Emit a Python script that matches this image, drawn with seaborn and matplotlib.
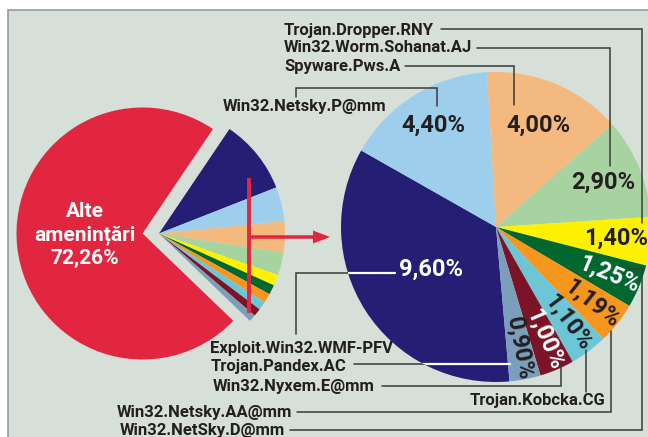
import matplotlib
matplotlib.use("Agg")
import matplotlib.pyplot as plt
import seaborn as sns
import numpy as np
from matplotlib.patches import Rectangle, Circle

# ---------------- data ----------------
threats = ["Exploit.Win32.WMF-PFV", "Win32.Netsky.P@mm", "Spyware.Pws.A",
           "Win32.Worm.Sohanat.AJ", "Trojan.Dropper.RNY", "Win32.NetSky.D@mm",
           "Win32.Netsky.AA@mm", "Trojan.Kobcka.CG", "Win32.Nyxem.E@mm",
           "Trojan.Pandex.AC"]
shares = [9.60, 4.40, 4.00, 2.90, 1.40, 1.25, 1.19, 1.10, 1.00, 0.90]
other_label = "Alte\namenințări"
other_share = 72.26

colors = ["#241f74", "#9dcfec", "#f4b97f", "#a7d3a1", "#fff200", "#00672f",
          "#f7961d", "#6cc6d5", "#7c1428", "#7b9fba"]
red = "#e32640"
bg = "#d6dfd8"
ink = "#231f20"

sns.set_theme(style="white")
plt.rcParams["font.family"] = ["Roboto", "DejaVu Sans"]

W, H = 648, 437
fig = plt.figure(figsize=(W / 100, H / 100), dpi=100)
fig.patch.set_facecolor("white")
ax = fig.add_axes([0, 0, 1, 1])

def Y(y):
    return H - y

# panel
ax.add_patch(Rectangle((8, -5), W, Y(10) + 5, facecolor=bg, edgecolor="#9a9a9a",
                       lw=1.2, zorder=0))

def fmt(v):
    return f"{v:.2f}".replace(".", ",") + "%"

# ---------------- left pie ----------------
lc = (142.5, Y(233.5))
lr = 126
allv = shares + [other_share]
ax.pie(allv, colors=["none"] * len(shares) + [red], startangle=56,
       counterclock=False, radius=lr, center=lc,
       wedgeprops=dict(linewidth=0), frame=False)
ax.pie(allv, colors=colors + ["none"], startangle=56, counterclock=False,
       radius=lr, center=(lc[0] + 16.5, lc[1]),
       wedgeprops=dict(linewidth=0), frame=False)
ax.text(85, Y(235), other_label + "\n" + fmt(other_share), color="white",
        ha="center", va="center", fontsize=15, fontweight="bold",
        linespacing=1.25, zorder=5)

# red arrow
ax.plot([249, 249], [Y(178), Y(313)], color=red, lw=2.8, solid_capstyle="butt",
        zorder=6)
ax.arrow(249, Y(237), 81, 0, width=3.5, head_width=13, head_length=17,
         length_includes_head=True, color=red, lw=0, zorder=6)

# ---------------- right pie ----------------
rc = (496, Y(227))
rr = 155
wedges, _ = ax.pie(shares, colors=colors, startangle=-85, counterclock=False,
                   radius=rr, center=rc, wedgeprops=dict(linewidth=0),
                   frame=False)
for w in wedges:
    w.set_zorder(2)

label_dist = [0.50, 0.77, 0.71, 0.75, 0.78, 0.79, 0.79, 0.77, 0.79, 0.80]
label_rot = [False, False, False, False, False, True, True, True, True, True]
label_col = ["white", ink, ink, ink, ink, "white", ink, ink, "white", ink]
for w, v, d, rot, c in zip(wedges, shares, label_dist, label_rot, label_col):
    mid = np.deg2rad((w.theta1 + w.theta2) / 2)
    x = rc[0] + d * rr * np.cos(mid)
    y = rc[1] + d * rr * np.sin(mid)
    ax.text(x, y, fmt(v), color=c, ha="center", va="center", fontsize=17,
            fontweight="bold",
            rotation=np.rad2deg(mid) if rot else 0,
            rotation_mode="anchor", zorder=7)

ax.set_xlim(0, W)
ax.set_ylim(0, H)
ax.set_aspect("auto")
ax.axis("off")

# ---------------- labels & leader lines ----------------
lab_fs = 12
renderer = fig.canvas.get_renderer()

def lab(x, y, s, ha="left"):
    t = ax.text(x, Y(y), s, ha=ha, va="center", fontsize=lab_fs,
                fontweight="bold", color=ink, zorder=8)
    bb = t.get_window_extent(renderer=renderer)
    return bb.x1  # pixel == data x here

def leader(pts, white_inside=False):
    xs = [p[0] for p in pts]
    ys = [Y(p[1]) for p in pts]
    ax.plot(xs, ys, color="#3a3a3a", lw=1.1, zorder=4, solid_joinstyle="miter")
    if white_inside:
        ln, = ax.plot(xs, ys, color="white", lw=1.6, zorder=4.5)
        clip = Circle(rc, rr, transform=ax.transData)
        ln.set_clip_path(clip)

e = lab(284, 30, threats[4])
leader([(e + 7, 29), (642, 29), (642, 223)])
e = lab(284, 48, threats[3])
leader([(e + 5, 48), (610, 48), (610, 166)])
e = lab(284, 66, threats[2])
leader([(e + 5, 66), (514, 66), (514, 105)])
lab(223, 107, threats[1])
leader([(296, 97), (296, 88), (437, 88), (437, 106)])

lab(210, 349, threats[0])
leader([(296, 334), (296, 273), (395, 273)], white_inside=True)
e = lab(211, 366, threats[9])
leader([(e + 7, 364), (510, 364)], white_inside=True)
e = lab(213, 386, threats[8])
leader([(e + 7, 386), (561, 386), (561, 363)])
lab(470, 401, threats[7])
leader([(586, 350), (586, 392)])
lab(292, 412, threats[6], ha="right")
leader([(297, 412), (611, 412), (611, 331)])
lab(285, 430, threats[5], ha="right")
leader([(290, 430), (642, 430), (642, 269), (628, 269)])

fig.savefig("out.png", dpi=100, facecolor="white")
